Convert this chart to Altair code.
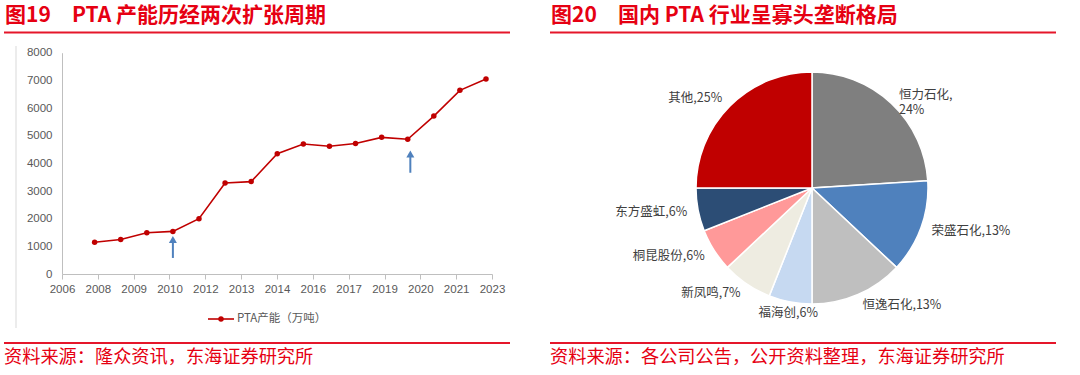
import altair as alt
import pandas as pd
import numpy as np

# ---------------- data ----------------
years = list(range(2008, 2024))
capacity = [1150, 1250, 1490, 1540, 2000, 3290, 3340, 4350, 4700, 4620,
            4720, 4940, 4870, 5710, 6640, 7050]
x_tick_labels = ["2006", "2008", "2009", "2010", "2012", "2013", "2014",
                 "2016", "2017", "2019", "2020", "2021", "2023"]
y_ticks = [0, 1000, 2000, 3000, 4000, 5000, 6000, 7000, 8000]
arrow_years = [2011.0, 2020.1]
arrow_tail = [580, 3660]
arrow_head = [1250, 4340]

companies = ["恒力石化", "荣盛石化", "恒逸石化", "福海创", "新凤鸣", "桐昆股份", "东方盛虹", "其他"]
shares = [24, 13, 13, 6, 7, 6, 6, 25]
pie_colors = ["#7f7f7f", "#4f81bd", "#bfbfbf", "#c6d9f1", "#eeece1", "#ff9999", "#2c4d75", "#c00000"]

title_left_no = "图19"
title_left = "PTA 产能历经两次扩张周期"
title_right_no = "图20"
title_right = "国内 PTA 行业呈寡头垄断格局"
source_left = "资料来源：隆众资讯，东海证券研究所"
source_right = "资料来源：各公司公告，公开资料整理，东海证券研究所"
legend_label = "PTA产能（万吨）"

# ---------------- styles ----------------
CJK = "Noto Sans CJK SC"
LAT = "Liberation Sans"
RED = "#e60012"
LINE_RED = "#c00000"
AXIS_GRAY = "#bfbfbf"
LABEL_GRAY = "#595959"

X_MIN, X_MAX = 2006.75, 2023.23
x_tick_vals = [float(v) for v in np.linspace(X_MIN, X_MAX, len(x_tick_labels))]
step = (X_MAX - X_MIN) / (len(x_tick_labels) - 1)
label_arr = "[" + ",".join(f"'{s}'" for s in x_tick_labels) + "]"

line_df = pd.DataFrame({"year": years, "cap": capacity})
arrow_df = pd.DataFrame({"year": arrow_years, "tail": arrow_tail, "head": arrow_head})
pie_labels = [f"{c},{s}%" for c, s in zip(companies, shares)]
pie_labels[0] = f"{companies[0]},\n{shares[0]}%"
pie_df = pd.DataFrame({"idx": list(range(len(companies))), "name": companies,
                       "pct": shares, "label": pie_labels})
dummy = pd.DataFrame({"k": [0]})

xscale = alt.Scale(domain=[X_MIN, X_MAX], range=[62, 492], nice=False, zero=False)
yscale = alt.Scale(domain=[0, 8000], range=[274, 52.7], nice=False)

x_enc = alt.X("year:Q", scale=xscale,
              axis=alt.Axis(values=x_tick_vals, title=None, grid=False, offset=-101,
                            domainColor=AXIS_GRAY, tickColor=AXIS_GRAY, tickSize=5,
                            labelColor=LABEL_GRAY, labelFont=LAT, labelFontSize=11.5,
                            labelPadding=4, labelOverlap=False, labelFlush=False,
                            labelExpr=f"{label_arr}[round((datum.value - {X_MIN})/{step})]"))
y_enc = alt.Y("cap:Q", scale=yscale,
              axis=alt.Axis(values=y_ticks, title=None, grid=False, offset=-62, format="d",
                            domainColor=AXIS_GRAY, ticks=False, tickSize=0,
                            labelColor=LABEL_GRAY, labelFont=LAT, labelFontSize=11.5,
                            labelPadding=10, labelOverlap=False, labelFlush=False))

line = alt.Chart(line_df).mark_line(color=LINE_RED, strokeWidth=1.6).encode(x=x_enc, y=y_enc)
pts = alt.Chart(line_df).mark_point(filled=True, color=LINE_RED, size=30, opacity=1).encode(
    x="year:Q", y="cap:Q")

arrow_shaft = alt.Chart(arrow_df).mark_rule(color="#4f81bd", strokeWidth=2).encode(
    x="year:Q", y="tail:Q", y2="head:Q")
arrow_tip = alt.Chart(arrow_df).mark_point(shape="triangle-up", filled=True, color="#4f81bd",
                                           size=64, opacity=1).encode(x="year:Q", y="head:Q")


def txt(text, x, y, size, color, weight="normal", align="left", font=CJK):
    return alt.Chart(dummy).mark_text(fontSize=size, color=color, fontWeight=weight,
                                      align=align, baseline="middle", font=font).encode(
        x=alt.value(x), y=alt.value(y), text=alt.value(text))


def hrule(x1, x2, y, color, width):
    return alt.Chart(dummy).mark_rule(color=color, strokeWidth=width).encode(
        x=alt.value(x1), x2=alt.value(x2), y=alt.value(y))


# frame / decorations
left_border = alt.Chart(dummy).mark_rule(color="#d9d9d9", strokeWidth=1).encode(
    x=alt.value(16), y=alt.value(46), y2=alt.value(328))

legend_line = hrule(208, 234, 319, LINE_RED, 1.6)
legend_dot = alt.Chart(dummy).mark_point(filled=True, color=LINE_RED, size=30, opacity=1).encode(
    x=alt.value(221), y=alt.value(319))
legend_text = txt(legend_label, 237, 319, 11.5, LABEL_GRAY)

headers = [
    txt(title_left_no, 5, 16, 21, RED, "bold"),
    txt(title_left, 72, 16, 21, RED, "bold"),
    txt(title_right_no, 551, 16, 21, RED, "bold"),
    txt(title_right, 618, 16, 21, RED, "bold"),
    hrule(4, 510, 32.5, "#e5162a", 2),
    hrule(550, 1056, 32.5, "#e5162a", 2),
    hrule(4, 510, 343, "#e5162a", 2),
    hrule(550, 1056, 343, "#e5162a", 2),
    txt(source_left, 4, 358, 18.2, RED),
    txt(source_right, 550, 358, 18.2, RED),
]

# pie
theta_scale = alt.Scale(domain=[0, 100])
arcs = alt.Chart(pie_df).mark_arc(outerRadius=116, stroke="white", strokeWidth=1.5).encode(
    theta=alt.Theta("pct:Q", stack=True, scale=theta_scale),
    color=alt.Color("name:N", scale=alt.Scale(domain=companies, range=pie_colors), legend=None),
    order=alt.Order("idx:Q"),
    x=alt.value(812), y=alt.value(188),
)
pie_text = alt.Chart(pie_df).transform_window(
    cum="sum(pct)", sort=[alt.SortField("idx")]
).transform_calculate(
    mid="datum.cum - datum.pct / 2"
).mark_text(
    radius=127, fontSize=12.5, color="#404040", font=CJK, baseline="middle", lineBreak="\n",
    align={"expr": "datum.mid < 45 ? 'left' : (datum.mid <= 55 ? 'center' : 'right')"},
).encode(
    theta=alt.Theta("mid:Q", stack=None, scale=theta_scale),
    text="label:N",
    x=alt.value(812), y=alt.value(188),
)

chart = alt.layer(
    left_border, line, pts, arrow_shaft, arrow_tip, legend_line, legend_dot, legend_text,
    arcs, pie_text, *headers
).properties(
    width=1080, height=375, autosize=alt.AutoSizeParams(type="none"), padding=0,
    background="white"
).configure_view(stroke=None)

chart.save("out.html", embed_options={"renderer": "svg", "actions": False})
